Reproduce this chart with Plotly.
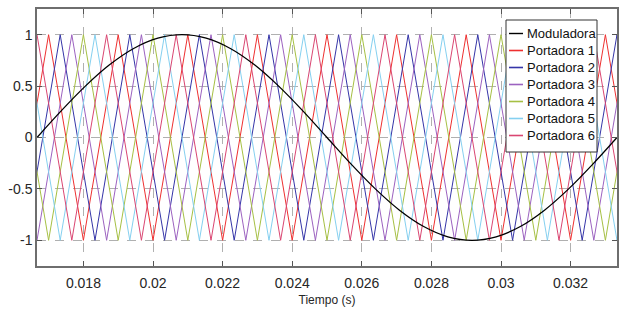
import plotly.graph_objects as go

# ---- data (times in ms) ----
mod_t_ms = [16.667, 17.361, 18.056, 18.750, 19.444, 20.139, 20.833, 21.528, 22.222,
            22.917, 23.611, 24.306, 25.000, 25.694, 26.389, 27.083, 27.778, 28.472,
            29.167, 29.861, 30.556, 31.250, 31.944, 32.639, 33.333]
mod_v = [0, 0.259, 0.5, 0.707, 0.866, 0.966, 1, 0.966, 0.866, 0.707, 0.5, 0.259, 0,
         -0.259, -0.5, -0.707, -0.866, -0.966, -1, -0.966, -0.866, -0.707, -0.5, -0.259, 0]

p1_t_ms = [16, 17, 18, 19, 20, 21, 22, 23, 24, 25, 26, 27, 28, 29, 30, 31, 32, 33, 34]
p1_v = [-1, 1, -1, 1, -1, 1, -1, 1, -1, 1, -1, 1, -1, 1, -1, 1, -1, 1, -1]
p2_t_ms = [16.333, 17.333, 18.333, 19.333, 20.333, 21.333, 22.333, 23.333, 24.333, 25.333,
           26.333, 27.333, 28.333, 29.333, 30.333, 31.333, 32.333, 33.333, 34.333]
p2_v = [-1, 1, -1, 1, -1, 1, -1, 1, -1, 1, -1, 1, -1, 1, -1, 1, -1, 1, -1]
p3_t_ms = [16.667, 17.667, 18.667, 19.667, 20.667, 21.667, 22.667, 23.667, 24.667, 25.667,
           26.667, 27.667, 28.667, 29.667, 30.667, 31.667, 32.667, 33.667, 34.667]
p3_v = [-1, 1, -1, 1, -1, 1, -1, 1, -1, 1, -1, 1, -1, 1, -1, 1, -1, 1, -1]
p4_t_ms = [16, 17, 18, 19, 20, 21, 22, 23, 24, 25, 26, 27, 28, 29, 30, 31, 32, 33, 34]
p4_v = [1, -1, 1, -1, 1, -1, 1, -1, 1, -1, 1, -1, 1, -1, 1, -1, 1, -1, 1]
p5_t_ms = [16.333, 17.333, 18.333, 19.333, 20.333, 21.333, 22.333, 23.333, 24.333, 25.333,
           26.333, 27.333, 28.333, 29.333, 30.333, 31.333, 32.333, 33.333, 34.333]
p5_v = [1, -1, 1, -1, 1, -1, 1, -1, 1, -1, 1, -1, 1, -1, 1, -1, 1, -1, 1]
p6_t_ms = [16.667, 17.667, 18.667, 19.667, 20.667, 21.667, 22.667, 23.667, 24.667, 25.667,
           26.667, 27.667, 28.667, 29.667, 30.667, 31.667, 32.667, 33.667, 34.667]
p6_v = [1, -1, 1, -1, 1, -1, 1, -1, 1, -1, 1, -1, 1, -1, 1, -1, 1, -1, 1]

series_names = ["Moduladora", "Portadora 1", "Portadora 2", "Portadora 3",
                "Portadora 4", "Portadora 5", "Portadora 6"]
x_tick_vals = [0.018, 0.020, 0.022, 0.024, 0.026, 0.028, 0.030, 0.032]
x_tick_text = ["0.018", "0.02", "0.022", "0.024", "0.026", "0.028", "0.03", "0.032"]
y_tick_vals = [-1, -0.5, 0, 0.5, 1]
y_tick_text = ["-1", "-0.5", "0", "0.5", "1"]

# ---- styles ----
mod_color = "#000000"
carrier_colors = ["#ee3030", "#3535a8", "#9c62c0", "#a6c044", "#85d0f0", "#da4672"]
FONT = "Liberation Sans, Arial, sans-serif"
W, H = 623, 310
ML, MR, MT, MB = 37, 6, 9, 44
PW, PH = W - ML - MR, H - MT - MB


def px_to_paper(px, py):
    return (px - ML) / PW, (H - MB - py) / PH


fig = go.Figure()
carriers = [(p1_t_ms, p1_v), (p2_t_ms, p2_v), (p3_t_ms, p3_v),
            (p4_t_ms, p4_v), (p5_t_ms, p5_v), (p6_t_ms, p6_v)]

for i, (tt, vv) in enumerate(carriers):
    fig.add_trace(go.Scatter(x=[t / 1000 for t in tt], y=vv, mode="lines",
                             name=series_names[i + 1], showlegend=False,
                             line=dict(color=carrier_colors[i], width=1)))
fig.add_trace(go.Scatter(x=[t / 1000 for t in mod_t_ms], y=mod_v, mode="lines",
                         name=series_names[0], showlegend=False,
                         line=dict(color=mod_color, width=1.3, shape="spline")))

# ---- custom legend (box, sample lines, labels) ----
legend_colors = [mod_color] + carrier_colors
bx0, by0 = px_to_paper(506, 20)
bx1, by1 = px_to_paper(597, 152)
fig.add_shape(type="rect", xref="paper", yref="paper", x0=bx0, x1=bx1, y0=by1, y1=by0,
              line=dict(color="#333333", width=1), fillcolor="white", layer="above")
for k, (name, col) in enumerate(zip(series_names, legend_colors)):
    cy = 33.5 + 17 * k
    lx0, ly = px_to_paper(509, cy)
    lx1, _ = px_to_paper(523, cy)
    fig.add_shape(type="line", xref="paper", yref="paper", x0=lx0, x1=lx1, y0=ly, y1=ly,
                  line=dict(color=col, width=1.4 if k == 0 else 1.6), layer="above")
    tx, _ = px_to_paper(525, cy)
    fig.add_annotation(xref="paper", yref="paper", x=tx, y=ly, text=name, showarrow=False,
                       xanchor="left", yanchor="middle",
                       font=dict(family=FONT, size=13, color="#111111"))

axis_common = dict(showline=True, linecolor="#6e6e6e", linewidth=1.5, mirror="ticks",
                   ticks="inside", ticklen=5, tickcolor="#555555",
                   showgrid=True, gridcolor="#b0b0b0", griddash="dash", gridwidth=1,
                   zeroline=False, automargin=False,
                   tickfont=dict(family=FONT, size=14, color="#262626"))

fig.update_layout(
    width=W, height=H,
    margin=dict(l=ML, r=MR, t=MT, b=MB),
    paper_bgcolor="white", plot_bgcolor="white",
    font=dict(family=FONT, color="#262626"),
    showlegend=False,
    xaxis=dict(range=[1 / 60, 2 / 60], tickmode="array", tickvals=x_tick_vals,
               ticktext=x_tick_text, ticklabelstandoff=3,
               title=dict(text="Tiempo (s)", font=dict(family=FONT, size=12, color="#262626"),
                          standoff=6),
               **axis_common),
    yaxis=dict(range=[-1.25, 1.25], tickmode="array", tickvals=y_tick_vals,
               ticktext=y_tick_text, **axis_common),
)

fig.write_html("out.html", config={"displayModeBar": False},
               post_script="document.body.style.margin='0px';")
